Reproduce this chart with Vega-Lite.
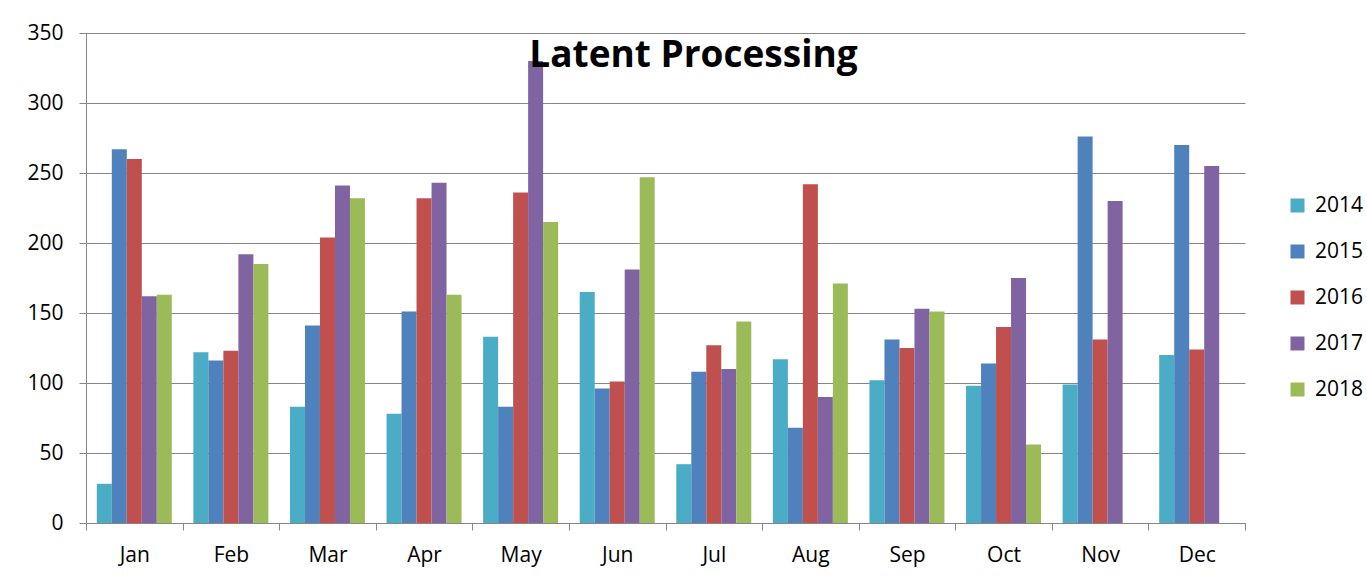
{
  "$schema": "https://vega.github.io/schema/vega-lite/v6.json",
  "width": 1159,
  "height": 490,
  "autosize": "none",
  "padding": {"left": 86, "top": 33, "right": 122, "bottom": 59},
  "background": "white",
  "title": {
    "text": "Latent Processing",
    "font": "Open Sans",
    "fontSize": 37,
    "fontWeight": "bold",
    "color": "black",
    "anchor": "middle",
    "dx": 28,
    "offset": -82,
    "baseline": "alphabetic"
  },
  "data": {
    "values": [
      {"month": "Jan", "year": "2014", "value": 28},
      {"month": "Jan", "year": "2015", "value": 267},
      {"month": "Jan", "year": "2016", "value": 260},
      {"month": "Jan", "year": "2017", "value": 162},
      {"month": "Jan", "year": "2018", "value": 163},
      {"month": "Feb", "year": "2014", "value": 122},
      {"month": "Feb", "year": "2015", "value": 116},
      {"month": "Feb", "year": "2016", "value": 123},
      {"month": "Feb", "year": "2017", "value": 192},
      {"month": "Feb", "year": "2018", "value": 185},
      {"month": "Mar", "year": "2014", "value": 83},
      {"month": "Mar", "year": "2015", "value": 141},
      {"month": "Mar", "year": "2016", "value": 204},
      {"month": "Mar", "year": "2017", "value": 241},
      {"month": "Mar", "year": "2018", "value": 232},
      {"month": "Apr", "year": "2014", "value": 78},
      {"month": "Apr", "year": "2015", "value": 151},
      {"month": "Apr", "year": "2016", "value": 232},
      {"month": "Apr", "year": "2017", "value": 243},
      {"month": "Apr", "year": "2018", "value": 163},
      {"month": "May", "year": "2014", "value": 133},
      {"month": "May", "year": "2015", "value": 83},
      {"month": "May", "year": "2016", "value": 236},
      {"month": "May", "year": "2017", "value": 330},
      {"month": "May", "year": "2018", "value": 215},
      {"month": "Jun", "year": "2014", "value": 165},
      {"month": "Jun", "year": "2015", "value": 96},
      {"month": "Jun", "year": "2016", "value": 101},
      {"month": "Jun", "year": "2017", "value": 181},
      {"month": "Jun", "year": "2018", "value": 247},
      {"month": "Jul", "year": "2014", "value": 42},
      {"month": "Jul", "year": "2015", "value": 108},
      {"month": "Jul", "year": "2016", "value": 127},
      {"month": "Jul", "year": "2017", "value": 110},
      {"month": "Jul", "year": "2018", "value": 144},
      {"month": "Aug", "year": "2014", "value": 117},
      {"month": "Aug", "year": "2015", "value": 68},
      {"month": "Aug", "year": "2016", "value": 242},
      {"month": "Aug", "year": "2017", "value": 90},
      {"month": "Aug", "year": "2018", "value": 171},
      {"month": "Sep", "year": "2014", "value": 102},
      {"month": "Sep", "year": "2015", "value": 131},
      {"month": "Sep", "year": "2016", "value": 125},
      {"month": "Sep", "year": "2017", "value": 153},
      {"month": "Sep", "year": "2018", "value": 151},
      {"month": "Oct", "year": "2014", "value": 98},
      {"month": "Oct", "year": "2015", "value": 114},
      {"month": "Oct", "year": "2016", "value": 140},
      {"month": "Oct", "year": "2017", "value": 175},
      {"month": "Oct", "year": "2018", "value": 56},
      {"month": "Nov", "year": "2014", "value": 99},
      {"month": "Nov", "year": "2015", "value": 276},
      {"month": "Nov", "year": "2016", "value": 131},
      {"month": "Nov", "year": "2017", "value": 230},
      {"month": "Dec", "year": "2014", "value": 120},
      {"month": "Dec", "year": "2015", "value": 270},
      {"month": "Dec", "year": "2016", "value": 124},
      {"month": "Dec", "year": "2017", "value": 255}
    ]
  },
  "mark": {"type": "bar"},
  "encoding": {
    "x": {
      "field": "month",
      "type": "nominal",
      "sort": ["Jan","Feb","Mar","Apr","May","Jun","Jul","Aug","Sep","Oct","Nov","Dec"],
      "scale": {"paddingInner": 0, "paddingOuter": 0},
      "axis": {
        "title": null,
        "labelAngle": 0,
        "tickBand": "extent",
        "tickSize": 7,
        "tickColor": "#868686",
        "domainColor": "#868686",
        "labelPadding": 14,
        "labelFontSize": 21,
        "labelFont": "Open Sans",
        "labelColor": "black",
        "grid": false
      }
    },
    "xOffset": {
      "field": "year",
      "type": "nominal",
      "scale": {"paddingInner": 0, "paddingOuter": 0.72}
    },
    "y": {
      "field": "value",
      "type": "quantitative",
      "scale": {"domain": [0, 350], "nice": false},
      "axis": {
        "title": null,
        "values": [0, 50, 100, 150, 200, 250, 300, 350],
        "tickSize": 7,
        "tickColor": "#868686",
        "domainColor": "#868686",
        "gridColor": "#868686",
        "labelPadding": 16,
        "labelFontSize": 21,
        "labelFont": "Open Sans",
        "labelColor": "black"
      }
    },
    "color": {
      "field": "year",
      "type": "nominal",
      "scale": {
        "domain": ["2014", "2015", "2016", "2017", "2018"],
        "range": ["#4BACC6", "#4F81BD", "#C0504D", "#8064A2", "#9BBB59"]
      },
      "legend": {
        "title": null,
        "orient": "none",
        "legendX": 1201,
        "legendY": 162,
        "padding": 0,
        "symbolType": "square",
        "symbolSize": 196,
        "symbolStrokeWidth": 0,
        "symbolOpacity": 1,
        "labelFontSize": 21,
        "labelFont": "Open Sans",
        "labelColor": "black",
        "labelOffset": 7,
        "rowPadding": 24
      }
    }
  },
  "config": {
    "view": {"stroke": null},
    "axis": {"domainWidth": 1, "gridWidth": 1, "tickWidth": 1}
  }
}
